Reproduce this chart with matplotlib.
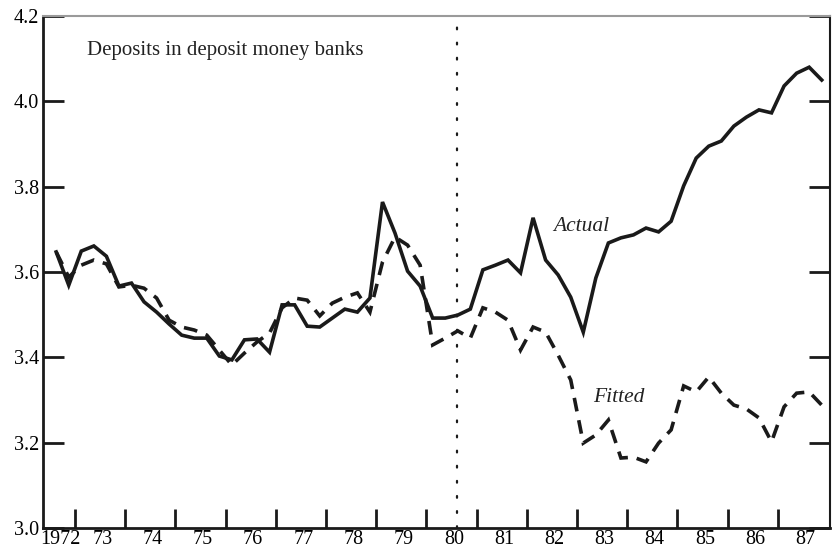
import numpy as np
import matplotlib
matplotlib.use('Agg')
import matplotlib.pyplot as plt

# quarterly observations, 1972Q3 - 1987Q4, plotted at mid-quarter
start_year = 1972.625
actual = [3.647, 3.569, 3.649, 3.661, 3.637, 3.567, 3.574, 3.530, 3.506, 3.478,
          3.452, 3.445, 3.445, 3.403, 3.394, 3.441, 3.443, 3.412, 3.523, 3.523,
          3.473, 3.471, 3.492, 3.513, 3.506, 3.539, 3.764, 3.691, 3.602, 3.567,
          3.492, 3.492, 3.499, 3.513, 3.605, 3.616, 3.628, 3.598, 3.727, 3.628,
          3.593, 3.541, 3.459, 3.586, 3.668, 3.680, 3.687, 3.703, 3.694, 3.719,
          3.802, 3.867, 3.895, 3.907, 3.942, 3.963, 3.980, 3.973, 4.036, 4.066,
          4.080, 4.050]
fitted = [3.647, 3.588, 3.616, 3.628, 3.619, 3.565, 3.569, 3.562, 3.539, 3.487,
          3.471, 3.464, 3.452, 3.417, 3.382, 3.410, 3.436, 3.457, 3.516, 3.539,
          3.534, 3.497, 3.527, 3.541, 3.551, 3.506, 3.623, 3.682, 3.663, 3.616,
          3.429, 3.445, 3.462, 3.445, 3.516, 3.506, 3.487, 3.417, 3.471, 3.459,
          3.405, 3.347, 3.199, 3.218, 3.253, 3.164, 3.166, 3.155, 3.199, 3.230,
          3.333, 3.319, 3.354, 3.316, 3.288, 3.279, 3.258, 3.202, 3.284, 3.316,
          3.319, 3.288]
year_labels = ['1972', '73', '74', '75', '76', '77', '78', '79', '80',
               '81', '82', '83', '84', '85', '86', '87']
yticks = [3.0, 3.2, 3.4, 3.6, 3.8, 4.0, 4.2]
break_year = 1980.6

t = start_year + 0.25 * np.arange(len(actual))

plt.rcParams['font.family'] = ['Liberation Serif', 'DejaVu Serif']
fig = plt.figure(figsize=(8.32, 5.52), dpi=100)
ax = fig.add_axes([0.0517, 0.0435, 0.9459, 0.9275])

ax.plot(t, actual, color='#1a1a1a', lw=2.6, solid_joinstyle='miter')
ax.plot(t, fitted, color='#1a1a1a', lw=2.6, dashes=(3.8, 2.5), dash_joinstyle='miter')
ax.axvline(break_year, color='#1a1a1a', lw=1.6, linestyle=(0, (0.8, 6)),
           dash_capstyle='round')

ax.set_xlim(1972.3625, 1988.04)
ax.set_ylim(3.0, 4.2)

# year boundaries as ticks, labels centred in each year
ax.set_xticks(np.arange(1973, 1988))
ax.set_xticklabels([])
label_pos = [1972.7] + [y + 0.55 for y in range(1973, 1988)]
ax.set_xticks(label_pos, minor=True)
ax.set_xticklabels(year_labels, minor=True, fontsize=14.5)
ax.tick_params(axis='x', which='major', direction='in', length=14, width=2, color='#1a1a1a')
ax.tick_params(axis='x', which='minor', length=0, pad=1.5)

ax.set_yticks(yticks)
ax.set_yticklabels(['%.1f' % v for v in yticks], fontsize=14.5)
ax.tick_params(axis='y', which='major', direction='in', length=15, width=2,
               color='#1a1a1a', right=True, pad=3)

for side in ['left', 'bottom', 'right']:
    ax.spines[side].set_color('#1a1a1a')
    ax.spines[side].set_linewidth(2)
ax.spines['right'].set_linewidth(1.5)
ax.spines['top'].set_color('#9a9a9a')
ax.spines['top'].set_linewidth(1.5)

ax.text(1973.24, 4.12, 'Deposits in deposit money banks', fontsize=15,
        va='center', ha='left', color='#222222')
ax.text(1982.52, 3.707, 'Actual', fontsize=15.5, style='italic',
        va='center', ha='left', color='#222222')
ax.text(1983.32, 3.307, 'Fitted', fontsize=15.5, style='italic',
        va='center', ha='left', color='#222222')

fig.savefig('out.png', dpi=100)
